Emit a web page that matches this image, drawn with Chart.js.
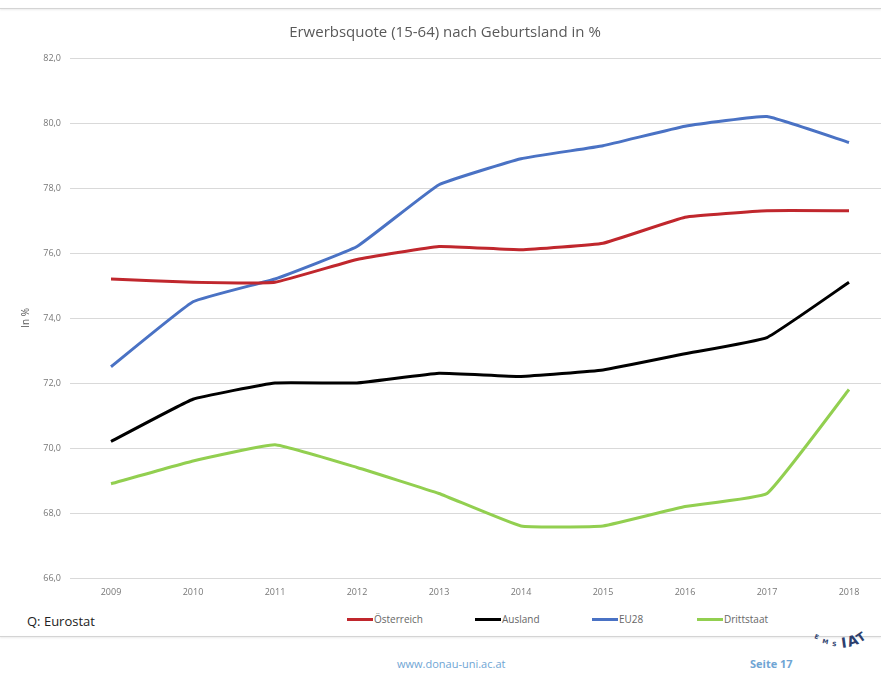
<!DOCTYPE html>
<html lang="de">
<head>
<meta charset="utf-8">
<script src="https://cdn.jsdelivr.net/npm/chart.js@4/dist/chart.umd.min.js"></script>
<style>
  html, body { margin: 0; padding: 0; background: #fff; overflow: hidden; }
  body { width: 881px; height: 675px; position: relative; font-family: "Open Sans", sans-serif; }
  #wrap { position: absolute; left: 0; top: 0; width: 900px; height: 610px; }
  .rule { position: absolute; left: 0; width: 881px; height: 1px; background: #d4d4d4; box-shadow: 0 1px 2px rgba(0,0,0,0.12); }
  #source { position: absolute; left: 27px; top: 612px; font-size: 13px; color: #222; }
  #legend { position: absolute; top: 612px; left: 0; height: 16px; }
  .item { position: absolute; display: flex; align-items: center; font-size: 10px; color: #666; white-space: nowrap; }
  .item i { display: inline-block; width: 26px; height: 3px; margin-right: 1px; }
  .foot { position: absolute; top: 656px; font-size: 11px; color: #6fa5d4; }
  #logo { position: absolute; left: 812px; top: 630px; width: 60px; height: 30px; }
</style>
</head>
<body>
<div class="rule" style="top:8px"></div>
<div id="wrap"><canvas id="chart"></canvas></div>
<div id="source">Q: Eurostat</div>
<div id="legend"></div>
<div class="rule" style="top:636px"></div>
<div class="foot" style="left:397px">www.donau-uni.ac.at</div>
<div class="foot" style="left:750px;font-weight:bold">Seite 17</div>
<svg id="logo" viewBox="0 0 60 30">
  <g fill="#2c3f6e" font-family="DejaVu Sans, sans-serif" font-weight="bold">
    <text x="2" y="8" font-size="6" transform="rotate(20 2 8)">E</text>
    <text x="10" y="13" font-size="6" transform="rotate(12 10 13)">M</text>
    <text x="20" y="16" font-size="6" transform="rotate(4 20 16)">S</text>
    <text x="30" y="18" font-size="14" transform="rotate(-8 30 18)">I</text>
    <text x="37" y="17" font-size="14" transform="rotate(-18 37 17)">A</text>
    <text x="48" y="13" font-size="12" transform="rotate(-35 48 13)">T</text>
  </g>
</svg>
<script>
// Erwerbsquote (15-64) nach Geburtsland, 2009–2018
const years = ["2009", "2010", "2011", "2012", "2013", "2014", "2015", "2016", "2017", "2018"];
const oesterreich = [75.2, 75.1, 75.1, 75.8, 76.2, 76.1, 76.3, 77.1, 77.3, 77.3];
const ausland     = [70.2, 71.5, 72.0, 72.0, 72.3, 72.2, 72.4, 72.9, 73.4, 75.1];
const eu28        = [72.5, 74.5, 75.2, 76.2, 78.1, 78.9, 79.3, 79.9, 80.2, 79.4];
const drittstaat  = [68.9, 69.6, 70.1, 69.4, 68.6, 67.6, 67.6, 68.2, 68.6, 71.8];
const seriesNames = ["Österreich", "Ausland", "EU28", "Drittstaat"];
const seriesColors = ["#c0272d", "#000000", "#4a72c4", "#92cf50"];
const legendLeft = [347, 475, 592, 697];

const font = '"Open Sans", sans-serif';
const values = [oesterreich, ausland, eu28, drittstaat];

const datasets = values.map((v, i) => ({
  label: seriesNames[i],
  data: v,
  borderColor: seriesColors[i],
  backgroundColor: seriesColors[i],
  borderWidth: 3,
  pointRadius: 0,
  tension: 0.1,
  fill: false
}));

const chart = new Chart(document.getElementById("chart"), {
  type: "line",
  data: { labels: years, datasets },
  options: {
    responsive: true,
    maintainAspectRatio: false,
    animation: false,
    layout: { padding: { left: 0, right: 10, top: 0, bottom: 7 } },
    plugins: {
      legend: { display: false },
      tooltip: { enabled: false },
      title: {
        display: true,
        text: "Erwerbsquote (15-64) nach Geburtsland in %",
        color: "#595959",
        font: { family: font, size: 15, weight: "normal" },
        padding: { top: 24, bottom: 16 }
      }
    },
    scales: {
      x: {
        offset: true,
        grid: { display: false, drawTicks: false },
        border: { display: false },
        ticks: { color: "#777", font: { family: font, size: 9 }, padding: 9, maxRotation: 0 },
        afterFit: s => { s.height = 25; }
      },
      y: {
        min: 66,
        max: 82,
        grid: { color: "#d9d9d9", lineWidth: 1, drawTicks: false },
        border: { display: false },
        ticks: {
          stepSize: 2,
          color: "#777",
          font: { family: font, size: 9 },
          padding: 9,
          callback: v => v.toFixed(1).replace(".", ",")
        },
        title: {
          display: true,
          text: "In %",
          color: "#595959",
          font: { family: font, size: 10 },
          padding: { top: 20, bottom: 0 }
        },
        afterFit: s => { s.width = 70; }
      }
    }
  }
});

// legend built from the chart's datasets
const legend = document.getElementById("legend");
chart.data.datasets.forEach((ds, i) => {
  const el = document.createElement("div");
  el.className = "item";
  el.style.left = legendLeft[i] + "px";
  const swatch = document.createElement("i");
  swatch.style.background = ds.borderColor;
  el.appendChild(swatch);
  el.appendChild(document.createTextNode(ds.label));
  legend.appendChild(el);
});
</script>
</body>
</html>
